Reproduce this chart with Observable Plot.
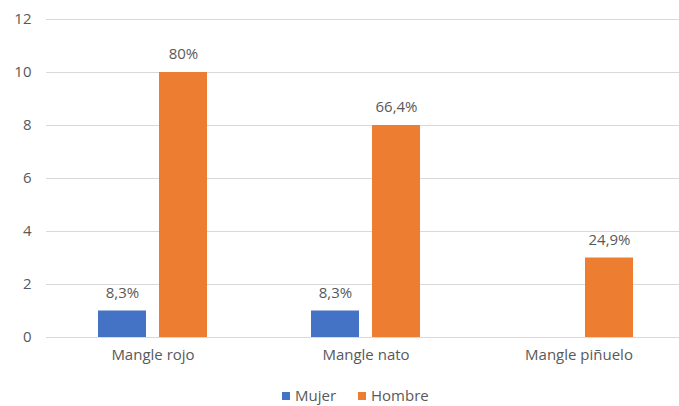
<!DOCTYPE html>
<html>
<head>
<meta charset="utf-8">
<script src="https://cdn.jsdelivr.net/npm/d3@7"></script>
<script src="https://cdn.jsdelivr.net/npm/@observablehq/plot@0.6"></script>
<style>
  html, body { margin: 0; padding: 0; overflow: hidden; background: #fff; }
  #wrap { position: relative; width: 679px; height: 406px; overflow: hidden; }
  #chart svg { max-width: none !important; display: block; }
  #legend {
    position: absolute; left: 282px; top: 386px; display: flex; align-items: center;
    font-family: "Open Sans", sans-serif; font-size: 15px; color: #595959; line-height: 19px;
  }
  #legend .item { display: flex; align-items: center; margin-right: 22px; }
  #legend .sw { width: 8px; height: 8px; margin-right: 5px; }
</style>
</head>
<body>
<div id="wrap">
  <div id="chart"></div>
  <div id="legend"></div>
</div>
<script>
// Categorías y series
const categories = ["Mangle rojo", "Mangle nato", "Mangle piñuelo"];
const series = ["Mujer", "Hombre"];
const mujer = [1, 1, 0];
const hombre = [10, 8, 3];
const mujerLabels = ["8,3%", "8,3%", null];
const hombreLabels = ["80%", "66,4%", "24,9%"];
const colors = ["#4472C4", "#ED7D31"];
const yTicks = [0, 2, 4, 6, 8, 10, 12];

// Tabla larga para Plot
const rows = categories.flatMap((c, i) => [
  {categoria: c, sexo: "Mujer", valor: mujer[i], etiqueta: mujerLabels[i]},
  {categoria: c, sexo: "Hombre", valor: hombre[i], etiqueta: hombreLabels[i]}
]).filter(d => d.valor > 0);

const chart = Plot.plot({
  width: 685,
  height: 382,
  marginLeft: 46,
  marginRight: 0,
  marginTop: 19,
  marginBottom: 45,
  style: {fontFamily: "'Open Sans', sans-serif", fontSize: "15px", color: "#595959", background: "#fff", maxWidth: "none"},
  fx: {domain: categories, padding: 0, label: null, axis: "bottom", tickSize: 0, tickPadding: 12},
  x: {domain: series, paddingInner: 0.213, paddingOuter: 0.85, axis: null},
  y: {domain: [0, 12], ticks: yTicks, label: null, tickSize: 0, tickPadding: 15},
  color: {domain: series, range: colors},
  marks: [
    Plot.gridY(yTicks, {stroke: "#D9D9D9", strokeOpacity: 1, strokeWidth: 1}),
    Plot.barY(rows, {fx: "categoria", x: "sexo", y: "valor", fill: "sexo"}),
    Plot.text(rows.filter(d => d.etiqueta), {
      fx: "categoria", x: "sexo", y: "valor", text: "etiqueta",
      dy: -18, fill: "#595959", fontSize: 15
    })
  ]
});
document.getElementById("chart").appendChild(chart);

// Leyenda
const legend = d3.select("#legend");
series.forEach((s, i) => {
  const item = legend.append("div").attr("class", "item");
  item.append("div").attr("class", "sw").style("background", colors[i]);
  item.append("span").text(s);
});
</script>
</body>
</html>
